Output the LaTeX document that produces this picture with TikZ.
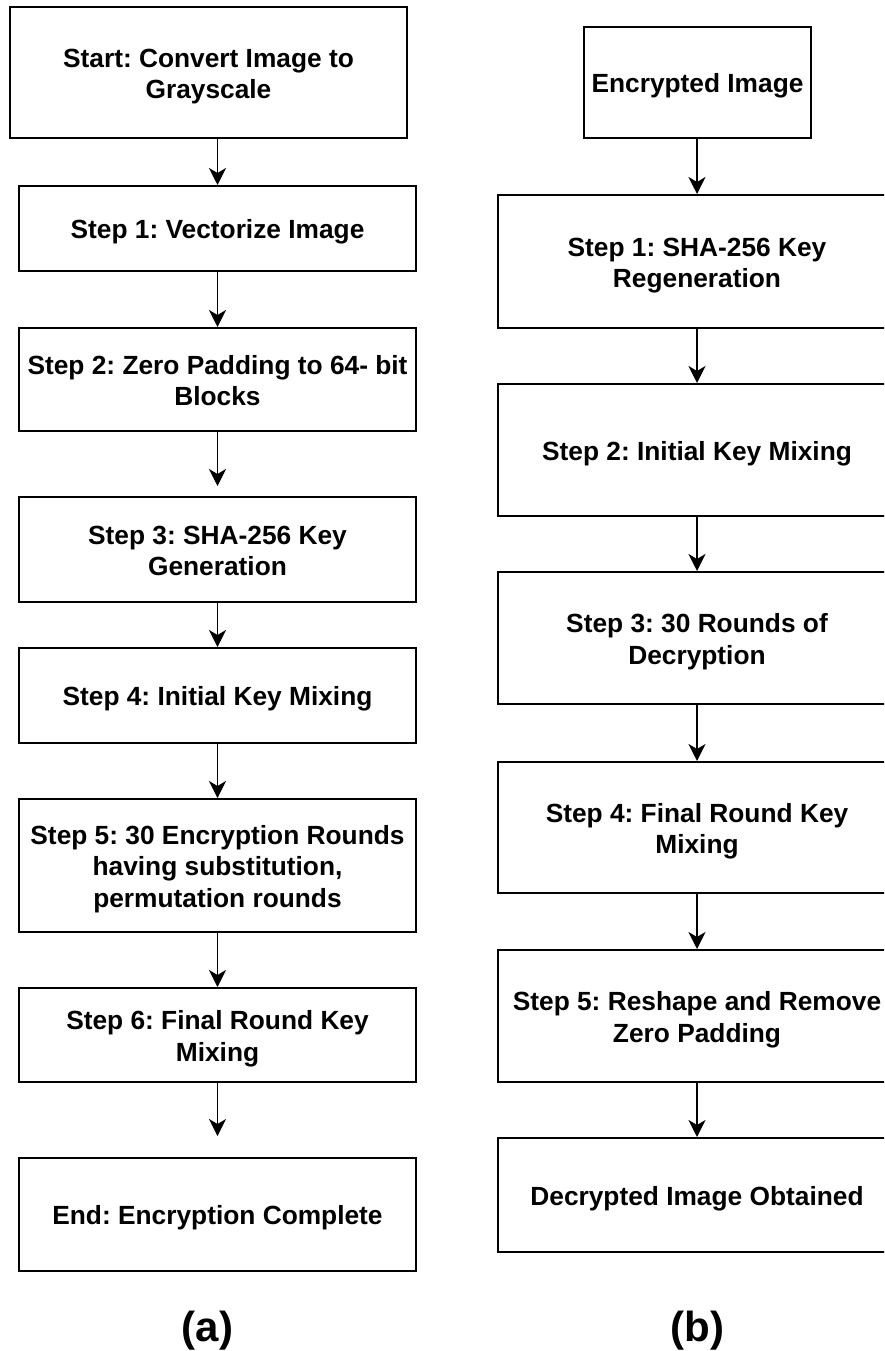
\documentclass[tikz,border=0pt]{standalone}
\usepackage{fontspec}
\setmainfont{Liberation Sans}
\usetikzlibrary{arrows.meta}
\frenchspacing

% centred lines of a step box, set on a line grid and lowered (keeping the
% box size) to sit on the optical centre of the box
\newcommand{\boxlines}[1]{\raisebox{-4bp}[\height][\depth]{\begin{tabular}{@{}c@{}}#1\end{tabular}}}

\tikzset{
  stepbox/.style={draw=black, line width=2bp, fill=white, inner sep=0pt,
    font=\fontsize{26.3bp}{31.6bp}\selectfont\bfseries},
  flow/.style={draw=black, line width=1.8bp,
    -{Stealth[length=17bp, width=17bp, inset=5bp]}},
  caption/.style={anchor=base, inner sep=0pt,
    font=\fontsize{42bp}{48bp}\selectfont\bfseries}
}

\begin{document}
\begin{tikzpicture}[x=1bp, y=-1bp]
  \useasboundingbox (0,0) rectangle (884,1351);
  \clip (0,0) rectangle (884,1351);
  \fill[white] (0,0) rectangle (884,1351);

  % (a) encryption flow
  \node[stepbox, minimum width=397bp, minimum height=131bp] (a0) at (208.5,72.5)
    {\boxlines{Start: Convert Image to\\Grayscale}};
  \node[stepbox, minimum width=397bp, minimum height=85bp] (a1) at (217.5,228.5)
    {\boxlines{Step 1: Vectorize Image}};
  \node[stepbox, minimum width=397bp, minimum height=103bp] (a2) at (217.5,379.5)
    {\boxlines{Step 2: Zero Padding to 64- bit\\Blocks}};
  \node[stepbox, minimum width=397bp, minimum height=105bp] (a3) at (217.5,549.5)
    {\boxlines{Step 3: SHA-256 Key\\Generation}};
  \node[stepbox, minimum width=397bp, minimum height=95bp] (a4) at (217.5,695.5)
    {\boxlines{Step 4: Initial Key Mixing}};
  \node[stepbox, minimum width=397bp, minimum height=133bp] (a5) at (217.5,865.5)
    {\boxlines{Step 5: 30 Encryption Rounds\\having substitution,\\permutation rounds}};
  \node[stepbox, minimum width=397bp, minimum height=94bp] (a6) at (217.5,1035)
    {\boxlines{Step 6: Final Round Key\\Mixing}};
  \node[stepbox, minimum width=397bp, minimum height=113bp] (a7) at (217.5,1214.5)
    {\boxlines{End: Encryption Complete}};

  \draw[flow] (a0.south -| a1.north) -- (a1.north);
  \draw[flow] (a1.south) -- (a2.north);
  \draw[flow, shorten >=10bp] (a2.south) -- (a3.north);
  \draw[flow] (a3.south) -- (a4.north);
  \draw[flow] (a4.south) -- (a5.north);
  \draw[flow] (a5.south) -- (a6.north);
  \draw[flow, shorten >=21bp] (a6.south) -- (a7.north);

  \node[caption] (capa) at (207.5,1341) {(a)};

  % (b) decryption flow
  \node[stepbox, minimum width=227bp, minimum height=111bp] (b0) at (697.5,82.5)
    {\boxlines{Encrypted Image}};
  \node[stepbox, minimum width=398bp, minimum height=133bp] (b1) at (697,261.5)
    {\boxlines{Step 1: SHA-256 Key\\Regeneration}};
  \node[stepbox, minimum width=398bp, minimum height=132bp] (b2) at (697,450)
    {\boxlines{Step 2: Initial Key Mixing}};
  \node[stepbox, minimum width=398bp, minimum height=132bp] (b3) at (697,638)
    {\boxlines{Step 3: 30 Rounds of\\Decryption}};
  \node[stepbox, minimum width=398bp, minimum height=131bp] (b4) at (697,827.5)
    {\boxlines{Step 4: Final Round Key\\Mixing}};
  \node[stepbox, minimum width=398bp, minimum height=132bp] (b5) at (697,1016)
    {\boxlines{Step 5: Reshape and Remove\\Zero Padding}};
  \node[stepbox, minimum width=398bp, minimum height=114bp] (b6) at (697,1195)
    {\boxlines{Decrypted Image Obtained}};

  \draw[flow] (b0.south -| b1.north) -- (b1.north);
  \draw[flow] (b1.south) -- (b2.north);
  \draw[flow] (b2.south) -- (b3.north);
  \draw[flow] (b3.south) -- (b4.north);
  \draw[flow] (b4.south) -- (b5.north);
  \draw[flow] (b5.south) -- (b6.north);

  \node[caption] (capb) at (697.5,1341) {(b)};
\end{tikzpicture}
\end{document}
